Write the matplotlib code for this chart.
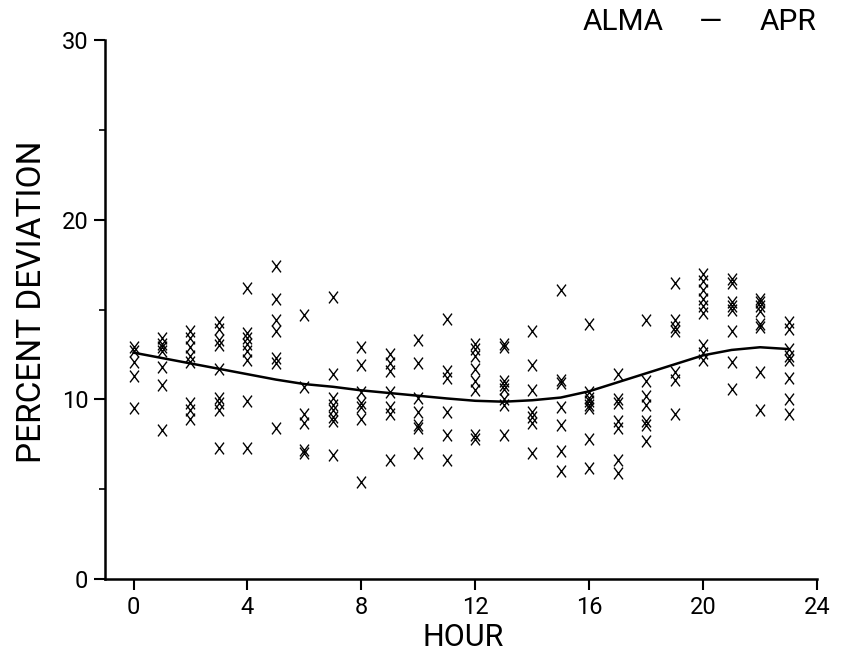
import matplotlib
matplotlib.use("Agg")
import matplotlib.pyplot as plt
from matplotlib.path import Path

# ---- data ----
hours = list(range(24))
deviations = [
    [12.9, 12.7, 12.1, 11.3, 9.5],
    [13.4, 13.1, 12.9, 12.7, 11.8, 10.8, 8.3],
    [13.8, 13.4, 12.9, 12.4, 12.1, 9.8, 9.4, 8.9],
    [14.3, 13.9, 13.3, 13.0, 11.7, 10.1, 9.8, 9.4, 7.3],
    [16.2, 13.7, 13.4, 13.1, 12.7, 12.2, 9.9, 7.3],
    [17.4, 15.6, 14.4, 13.8, 12.3, 12.0, 8.4],
    [14.7, 10.7, 9.2, 8.7, 7.2, 7.0],
    [15.7, 11.4, 10.1, 9.7, 9.4, 9.0, 8.8, 6.9],
    [12.9, 11.9, 10.4, 9.8, 9.6, 8.9, 5.4],
    [12.5, 12.0, 11.6, 10.4, 9.6, 9.2, 6.6],
    [13.3, 12.0, 10.1, 9.3, 8.6, 8.4, 7.0],
    [14.5, 11.6, 11.2, 9.3, 8.0, 6.6],
    [13.1, 12.8, 12.4, 11.7, 11.0, 10.5, 8.0, 7.8],
    [13.1, 12.9, 11.0, 10.8, 10.6, 10.0, 9.7, 8.0],
    [13.8, 11.9, 10.5, 9.3, 9.0, 8.7, 7.0],
    [16.1, 11.1, 10.9, 9.6, 8.6, 7.1, 6.0],
    [14.2, 10.4, 10.1, 9.9, 9.7, 9.5, 7.8, 6.2],
    [11.4, 10.0, 9.8, 8.8, 8.4, 6.6, 5.9],
    [14.4, 11.0, 10.2, 9.7, 8.8, 8.6, 7.7],
    [16.5, 14.4, 14.0, 13.8, 11.5, 11.1, 9.2],
    [17.0, 16.6, 16.1, 15.6, 15.2, 14.8, 13.0, 12.6, 12.2],
    [16.7, 16.5, 15.4, 15.2, 15.0, 13.8, 12.1, 10.6],
    [15.6, 15.4, 15.2, 14.9, 14.2, 14.0, 11.5, 9.4],
    [14.3, 13.9, 12.8, 12.4, 12.2, 11.2, 10.0, 9.2],
]
fit_curve = [12.6, 12.3, 12.0, 11.7, 11.4, 11.1, 10.85, 10.7, 10.5, 10.35,
             10.2, 10.05, 9.92, 9.87, 9.95, 10.1, 10.45, 10.95, 11.45, 11.95,
             12.45, 12.75, 12.9, 12.8]
x_ticks = [0, 4, 8, 12, 16, 20, 24]
y_ticks = [0, 10, 20, 30]
title_left, title_mid, title_right = "ALMA", "\u2014", "APR"

plt.rcParams['font.family'] = ['Roboto', 'DejaVu Sans']
plt.rcParams['font.weight'] = 'normal'

fig = plt.figure(figsize=(8.41, 6.55), dpi=100)
ax = fig.add_axes([0.1249, 0.116, 0.8466, 0.8229])

xmark = Path([(-0.38, -0.5), (0.38, 0.5), (-0.38, 0.5), (0.38, -0.5)],
             [Path.MOVETO, Path.LINETO, Path.MOVETO, Path.LINETO])

px, py = [], []
for h, vals in zip(hours, deviations):
    for v in vals:
        px.append(h)
        py.append(v)
ax.plot(px, py, linestyle='none', marker=xmark, markersize=8.5,
        markeredgewidth=1.0, color='black')
ax.plot(hours, fit_curve, color='black', linewidth=1.8)

ax.set_xlim(-1, 24)
ax.set_ylim(0, 30)
for s in ['top', 'right']:
    ax.spines[s].set_visible(False)
for s in ['left', 'bottom']:
    ax.spines[s].set_linewidth(1.8)
ax.set_xticks(x_ticks)
ax.set_yticks(y_ticks)
ax.set_yticks([5, 15, 25], minor=True)
ax.tick_params(axis='both', which='major', direction='out', length=8, width=1.5,
               labelsize=17, pad=4)
ax.tick_params(axis='y', which='minor', direction='out', length=4, width=1.2)
ax.set_xlabel("HOUR", fontsize=22, fontweight='normal')
ax.xaxis.set_label_coords(0.503, -0.082)
ax.set_ylabel("PERCENT DEVIATION", fontsize=24, fontweight='normal')
ax.yaxis.set_label_coords(-0.08, 0.514)

fig.text(583 / 841, 1 - 22 / 655, title_left, fontsize=21.5, va='center', ha='left')
fig.text(711 / 841, 1 - 22 / 655, title_mid, fontsize=21.5, va='center', ha='center')
fig.text(817 / 841, 1 - 22 / 655, title_right, fontsize=21.5, va='center', ha='right')

fig.savefig("out.png", dpi=100)
